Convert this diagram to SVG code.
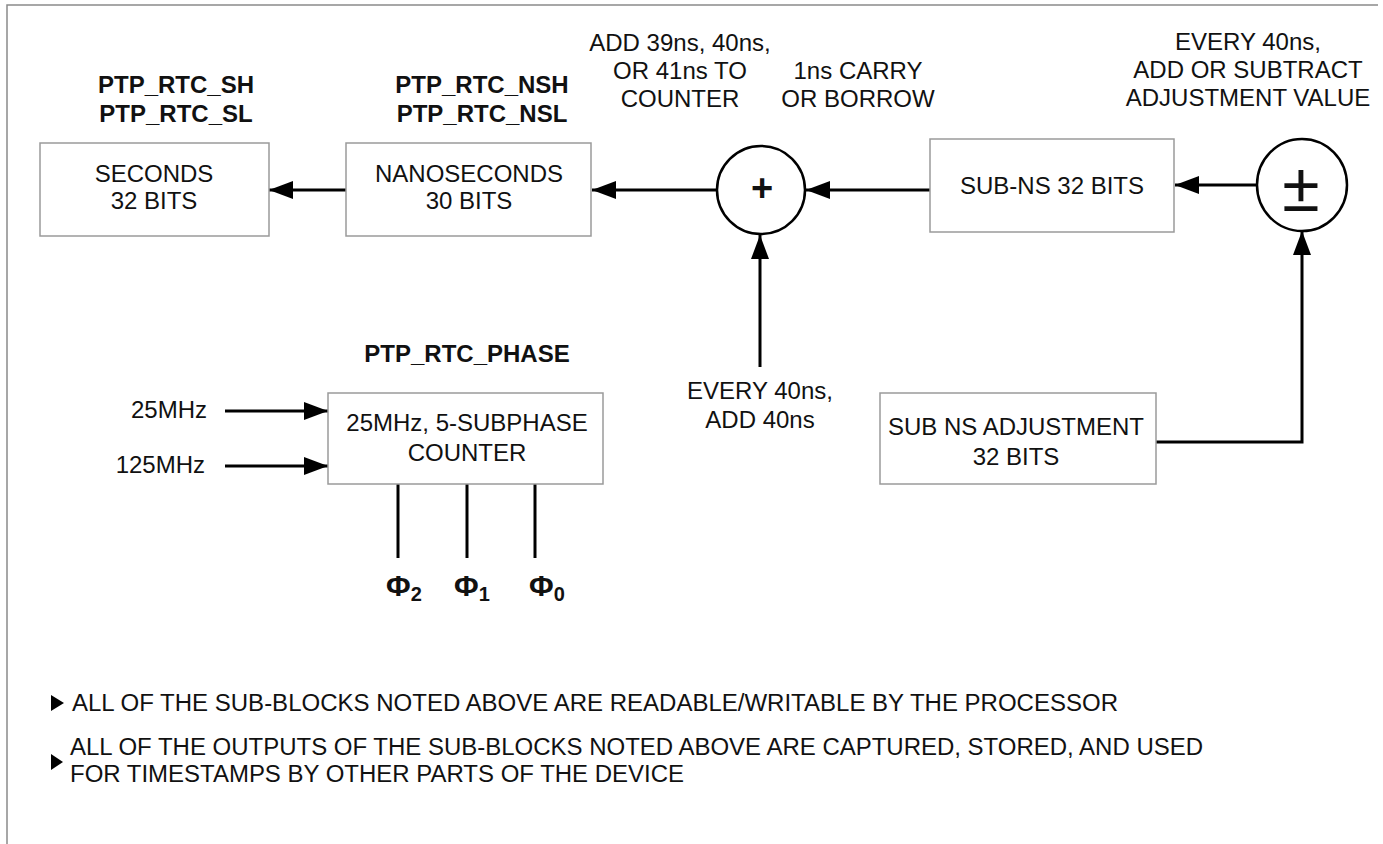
<svg xmlns="http://www.w3.org/2000/svg" width="1383" height="844" viewBox="0 0 1383 844">
<style>
.bx{fill:#fff;stroke:#9a9a9a;stroke-width:1.5}
.ci{fill:#fff;stroke:#000;stroke-width:2.5}
.ln{fill:none;stroke:#000;stroke-width:3}
.ar{marker-end:url(#ah)}
.t{font-family:"Liberation Sans",Arial,sans-serif;font-size:24px;fill:#111;text-anchor:middle}
.b{font-weight:bold}
.n{font-family:"Liberation Sans",Arial,sans-serif;font-size:23px;fill:#111}
</style>
<defs>
<marker id="ah" viewBox="0 0 24 18" refX="24" refY="9" markerWidth="24" markerHeight="18" markerUnits="userSpaceOnUse" orient="auto">
<path d="M0,0 L24,9 L0,18 z" fill="#000"/>
</marker>
</defs>
<rect width="1383" height="844" fill="#fff"/>
<path d="M7,844 L7,5 L1378,5" fill="none" stroke="#8a8a8a" stroke-width="1.5"/>

<g id="connectors">
<path class="ln ar" d="M346,190 L269,190"/>
<path class="ln ar" d="M717,190 L592,190"/>
<path class="ln ar" d="M930,190 L806,190"/>
<path class="ln ar" d="M1257,185 L1175,185"/>
<path class="ln ar" d="M760,367 L760,235"/>
<path class="ln ar" d="M1156,442 L1302,442 L1302,231"/>
<path class="ln ar" d="M225,411 L328,411"/>
<path class="ln ar" d="M225,466 L328,466"/>
<path class="ln" d="M398,484 L398,558"/>
<path class="ln" d="M467,484 L467,558"/>
<path class="ln" d="M535,484 L535,558"/>
</g>

<g id="seconds">
<text class="t b" x="176" y="93">PTP_RTC_SH</text>
<text class="t b" x="176" y="122">PTP_RTC_SL</text>
<rect class="bx" x="40" y="143" width="229" height="93"/>
<text class="t" x="154" y="182">SECONDS</text>
<text class="t" x="154" y="209">32 BITS</text>
</g>

<g id="nanoseconds">
<text class="t b" x="482" y="93">PTP_RTC_NSH</text>
<text class="t b" x="482" y="122">PTP_RTC_NSL</text>
<rect class="bx" x="346" y="143" width="245" height="93"/>
<text class="t" x="469" y="182">NANOSECONDS</text>
<text class="t" x="469" y="209">30 BITS</text>
</g>

<g id="adder">
<circle class="ci" cx="761" cy="190" r="44"/>
<text class="t b" x="762" y="201" style="font-size:38px">+</text>
<text class="t" x="680" y="51">ADD 39ns, 40ns,</text>
<text class="t" x="680" y="79">OR 41ns TO</text>
<text class="t" x="680" y="107">COUNTER</text>
</g>

<g id="carry-label">
<text class="t" x="858" y="79">1ns CARRY</text>
<text class="t" x="858" y="107">OR BORROW</text>
</g>

<g id="subns">
<rect class="bx" x="930" y="139" width="244" height="93"/>
<text class="t" x="1052" y="194">SUB-NS 32 BITS</text>
</g>

<g id="addsub">
<ellipse class="ci" cx="1302" cy="185" rx="45" ry="46"/>
<text class="t" x="1301" y="211" style="font-size:68px">±</text>
<text class="t" x="1248" y="50">EVERY 40ns,</text>
<text class="t" x="1248" y="78">ADD OR SUBTRACT</text>
<text class="t" x="1248" y="106">ADJUSTMENT VALUE</text>
</g>

<g id="every40-label">
<text class="t" x="760" y="399">EVERY 40ns,</text>
<text class="t" x="760" y="428">ADD 40ns</text>
</g>

<g id="subns-adjust">
<rect class="bx" x="880" y="393" width="276" height="91"/>
<text class="t" x="1016" y="435">SUB NS ADJUSTMENT</text>
<text class="t" x="1016" y="465">32 BITS</text>
</g>

<g id="phase-counter">
<text class="t b" x="467" y="362">PTP_RTC_PHASE</text>
<rect class="bx" x="328" y="393" width="275" height="91"/>
<text class="t" x="467" y="431">25MHz, 5-SUBPHASE</text>
<text class="t" x="467" y="461">COUNTER</text>
</g>

<g id="clock-inputs">
<text class="t" x="207" y="418" style="text-anchor:end">25MHz</text>
<text class="t" x="205" y="473" style="text-anchor:end">125MHz</text>
</g>

<g id="phase-outputs">
<text class="t b" x="386" y="596" style="text-anchor:start;font-size:30px">Φ<tspan style="font-size:20px" dy="5">2</tspan></text>
<text class="t b" x="454" y="596" style="text-anchor:start;font-size:30px">Φ<tspan style="font-size:20px" dy="5">1</tspan></text>
<text class="t b" x="529" y="596" style="text-anchor:start;font-size:30px">Φ<tspan style="font-size:20px" dy="5">0</tspan></text>
</g>

<g id="notes">
<path d="M51,695 L64,703 L51,711 z" fill="#000"/>
<text class="n" x="72" y="711" textLength="1046" lengthAdjust="spacingAndGlyphs">ALL OF THE SUB-BLOCKS NOTED ABOVE ARE READABLE/WRITABLE BY THE PROCESSOR</text>
<path d="M51,754 L63,762 L51,770 z" fill="#000"/>
<text class="n" x="70" y="755" textLength="1133" lengthAdjust="spacingAndGlyphs">ALL OF THE OUTPUTS OF THE SUB-BLOCKS NOTED ABOVE ARE CAPTURED, STORED, AND USED</text>
<text class="n" x="70" y="782" textLength="614" lengthAdjust="spacingAndGlyphs">FOR TIMESTAMPS BY OTHER PARTS OF THE DEVICE</text>
</g>
</svg>
